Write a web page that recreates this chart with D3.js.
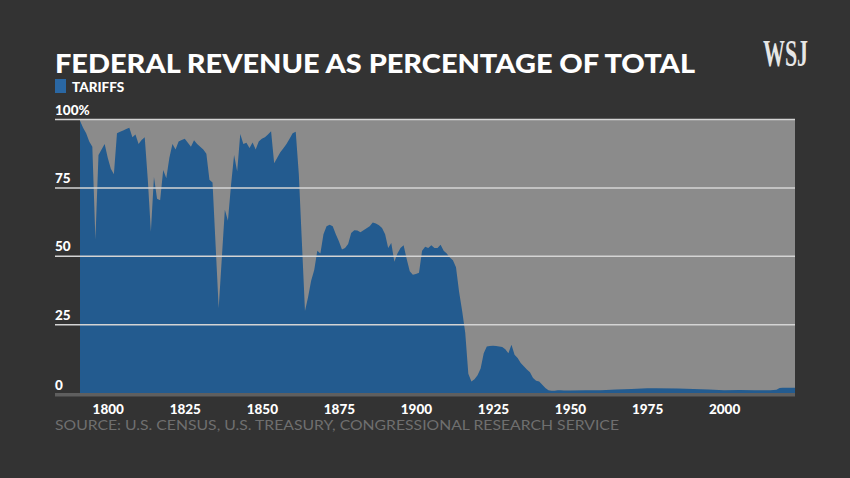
<!DOCTYPE html>
<html>
<head>
<meta charset="utf-8">
<script src="https://cdn.jsdelivr.net/npm/d3@7"></script>
<style>
  html, body { margin: 0; padding: 0; background: #333333; }
  svg { display: block; }
</style>
</head>
<body>
<svg id="chart" width="850" height="478"></svg>
<script>
// ---------- data ----------
const years = [
  1791,1792,1793,1794,1795,1796,1797,1798,1799,1800,
  1801,1802,1803,1804,1805,1806,1807,1808,1809,1810,
  1811,1812,1813,1814,1815,1816,1817,1818,1819,1820,
  1821,1822,1823,1824,1825,1826,1827,1828,1829,1830,
  1831,1832,1833,1834,1835,1836,1837,1838,1839,1840,
  1841,1842,1843,1844,1845,1846,1847,1848,1849,1850,
  1851,1852,1853,1854,1855,1856,1857,1858,1859,1860,
  1861,1862,1863,1864,1865,1866,1867,1868,1869,1870,
  1871,1872,1873,1874,1875,1876,1877,1878,1879,1880,
  1881,1882,1883,1884,1885,1886,1887,1888,1889,1890,
  1891,1892,1893,1894,1895,1896,1897,1898,1899,1900,
  1901,1902,1903,1904,1905,1906,1907,1908,1909,1910,
  1911,1912,1913,1914,1915,1916,1917,1918,1919,1920,
  1921,1922,1923,1924,1925,1926,1927,1928,1929,1930,
  1931,1932,1933,1934,1935,1936,1937,1938,1939,1940,
  1941,1942,1943,1944,1945,1946,1947,1948,1950,1955,
  1960,1965,1970,1975,1978,1985,1990,1995,2000,2005,
  2010,2015,2016,2017,2018,2019,2020,2021,2022,2023
];
const tariffShare = [
  99.5,97,95,92,90,56,87,89,91,86,
  82,80,95,95.5,96,96.5,97,93.5,94.5,91,
  92.5,93.5,78,59,79,71,70.5,81.5,78.5,86,
  91,89,92,92.5,93,91.5,90,92.4,91,90,
  89,87.5,78,77,54,31,49,67,63,76,
  87,81,94.7,91,91.5,89.6,91.6,89,92,93,
  93.5,94.5,95.7,84,86,88,89.5,91,93,95,
  95.5,80,55,30,35,41,45,52,51,58,
  61,61.5,61,58,55.5,52.5,53,54.5,58.5,59.5,
  59.4,58.8,59.5,60.2,61,62.3,62,61.3,60.3,58,
  53,54.8,48,51,53,54,49,44.5,43.2,43.5,
  44,52,53.5,53,54,53,53,54.2,52,51,
  49.5,48.5,46,37,30,22,7,4.2,5,6.5,
  9,14.5,17,17.2,17.3,17.2,17,16.8,16,14.5,
  17.6,14,12.8,11,9.8,8.6,7.6,5.5,4.5,4.2,
  3,1.8,1.0,0.8,0.8,1.0,1.0,0.9,0.9,1.0,
  1.0,1.3,1.5,1.7,1.7,1.6,1.5,1.3,1.0,1.1,
  1.0,1.0,1.1,1.2,1.8,1.9,1.9,1.9,1.9,1.9
];
const gridValues = [25, 50, 75, 100];
const yLabels = ["0", "25", "50", "75", "100%"];
const xTickYears = [1800, 1825, 1850, 1875, 1900, 1925, 1950, 1975, 2000];
const titleText = "FEDERAL REVENUE AS PERCENTAGE OF TOTAL";
const legendText = "TARIFFS";
const sourceText = "SOURCE: U.S. CENSUS, U.S. TREASURY, CONGRESSIONAL RESEARCH SERVICE";

// ---------- layout ----------
const svg = d3.select("#chart");
const plot = { left: 80, right: 795, top: 119.5, bottom: 393 };
const labelX = 55;
const FONT = "Lato, 'Open Sans', sans-serif";

const x = d3.scaleLinear().domain([1791, 2023]).range([plot.left, plot.right]);
const y = d3.scaleLinear().domain([0, 100]).range([plot.bottom, plot.top]);

svg.append("rect").attr("width", 850).attr("height", 478).attr("fill", "#333333");

// gray plot background
svg.append("rect")
  .attr("x", plot.left).attr("y", y(100))
  .attr("width", plot.right - plot.left).attr("height", y(0) - y(100))
  .attr("fill", "#8b8b8b");

// area
const data = years.map((yr, i) => ({ year: yr, v: tariffShare[i] }));
const area = d3.area()
  .x(d => x(d.year))
  .y0(y(0))
  .y1(d => y(d.v))
  .curve(d3.curveLinear);
svg.append("path").datum(data).attr("d", area).attr("fill", "#235b8f");

// gridlines
svg.append("g").selectAll("line").data(gridValues).join("line")
  .attr("x1", labelX).attr("x2", plot.right)
  .attr("y1", d => y(d)).attr("y2", d => y(d))
  .attr("stroke", "#d4d4d4").attr("stroke-width", 1.5);

// y labels
svg.append("g").selectAll("text").data([0, 25, 50, 75, 100]).join("text")
  .attr("x", labelX).attr("y", d => y(d) - (d === 0 ? 3 : 5))
  .attr("fill", "#ffffff").attr("font-family", FONT).attr("font-weight", 900)
  .attr("font-size", 13.5)
  .text((d, i) => yLabels[i]);

// bottom axis bar
svg.append("rect")
  .attr("x", labelX).attr("y", y(0))
  .attr("width", plot.right - labelX).attr("height", 3.5)
  .attr("fill", "#5f5f5f");

// x axis
const xAxis = d3.axisBottom(x).tickValues(xTickYears).tickSize(0).tickPadding(0)
  .tickFormat(d3.format("d"));
const gx = svg.append("g").attr("transform", `translate(0, ${y(0)})`).call(xAxis);
gx.select(".domain").remove();
gx.selectAll("text")
  .attr("y", 21).attr("dy", 0)
  .attr("fill", "#ffffff").attr("font-family", FONT).attr("font-weight", 900)
  .attr("font-size", 13.5);

// title
svg.append("text")
  .attr("x", 55).attr("y", 73)
  .attr("fill", "#ffffff").attr("font-family", FONT).attr("font-weight", 900)
  .attr("font-size", 26)
  .attr("textLength", 640).attr("lengthAdjust", "spacingAndGlyphs")
  .text(titleText);

// legend
svg.append("rect").attr("x", 55).attr("y", 79).attr("width", 11).attr("height", 14)
  .attr("fill", "#2a67a3");
svg.append("text")
  .attr("x", 72).attr("y", 92)
  .attr("fill", "#ffffff").attr("font-family", FONT).attr("font-weight", 900)
  .attr("font-size", 13.5)
  .text(legendText);

// source
svg.append("text")
  .attr("x", 55).attr("y", 430)
  .attr("fill", "#6f6f6f").attr("font-family", FONT).attr("font-weight", 400)
  .attr("font-size", 13)
  .attr("textLength", 564).attr("lengthAdjust", "spacingAndGlyphs")
  .text(sourceText);

// WSJ logo
svg.append("text")
  .attr("x", 763).attr("y", 66)
  .attr("fill", "#e6e6e6").attr("font-family", "'Liberation Serif', 'DejaVu Serif', serif")
  .attr("font-weight", 700).attr("font-size", 37)
  .attr("textLength", 45).attr("lengthAdjust", "spacingAndGlyphs")
  .text("WSJ");
</script>
</body>
</html>
